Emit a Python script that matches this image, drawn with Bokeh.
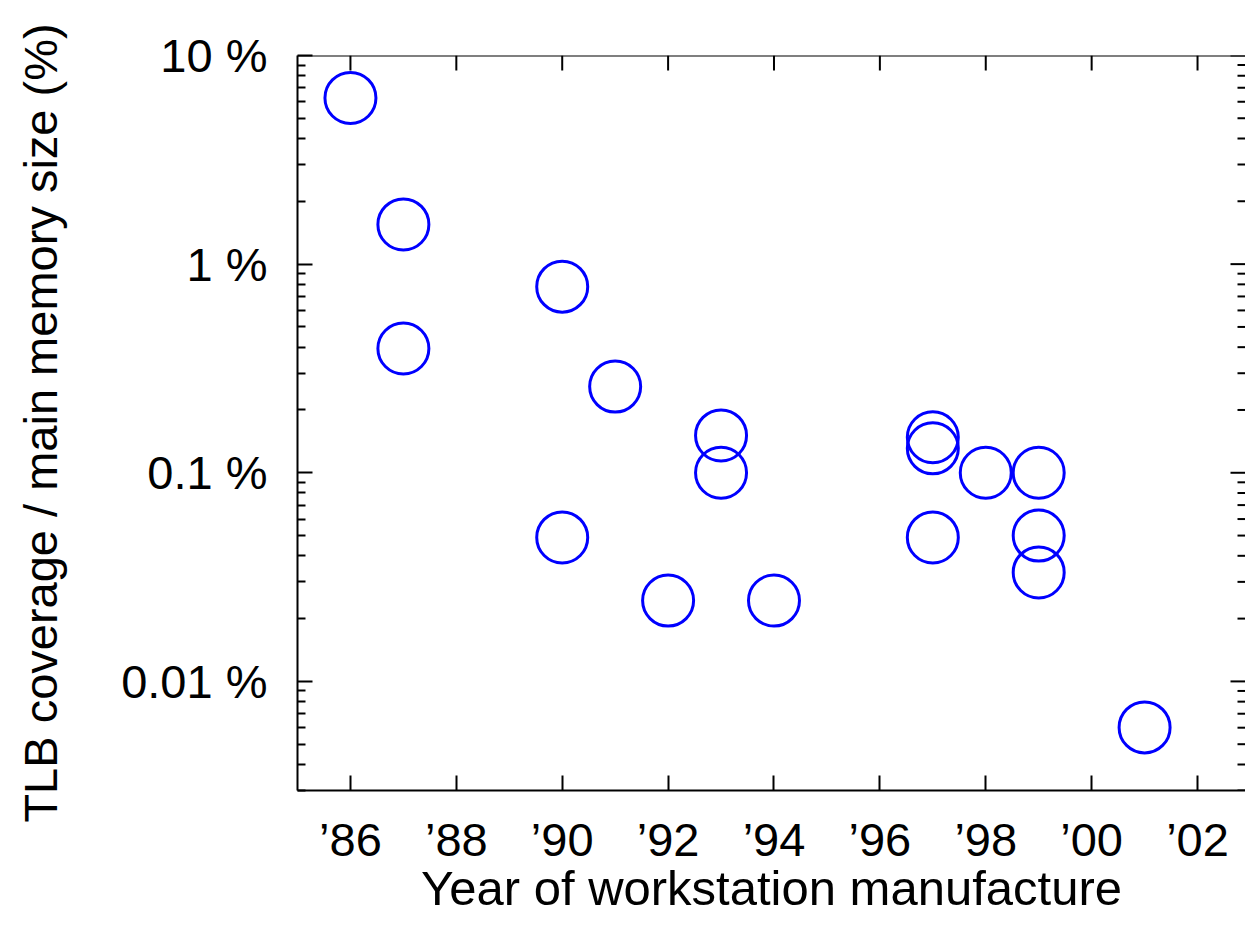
import math
from bokeh.plotting import figure
from bokeh.models import Range1d, FixedTicker, Span
from bokeh.embed import file_html
from bokeh.resources import INLINE

# ---- data ----
years = [1986, 1987, 1987, 1990, 1990, 1991, 1992, 1993, 1993, 1994,
         1997, 1997, 1997, 1998, 1999, 1999, 1999, 2001]
coverage_pct = [6.26, 1.55, 0.394, 0.78, 0.049, 0.259, 0.0244, 0.151, 0.100, 0.0244,
                0.148, 0.131, 0.049, 0.100, 0.100, 0.050, 0.0333, 0.00602]

x_ticks = [1986, 1988, 1990, 1992, 1994, 1996, 1998, 2000, 2002]
x_tick_labels = ["\u201986", "\u201988", "\u201990", "\u201992", "\u201994",
                 "\u201996", "\u201998", "\u201900", "\u201902"]
y_ticks = [0.01, 0.1, 1, 10]
y_tick_labels = ["0.01 %", "0.1 %", "1 %", "10 %"]
y_minor = [m * 10.0 ** e for e in range(-3, 1) for m in range(2, 10)]

x_title = "Year of workstation manufacture"
y_title = "TLB coverage / main memory size (%)"

X0, X1 = 1985, 2002.906
Y0, Y1 = 0.003, 10

FONT = "Liberation Sans"
FS = "47px"

p = figure(width=1245, height=936, output_backend="svg", toolbar_location=None,
           y_axis_type="log",
           x_range=Range1d(X0, X1), y_range=Range1d(Y0, Y1),
           min_border_left=297, min_border_right=0, min_border_top=55,
           min_border_bottom=146)
p.outline_line_color = None
p.grid.visible = False
p.background_fill_color = "white"
p.border_fill_color = "white"

# top border (right border falls outside the page, as in the reference)
p.add_layout(Span(location=Y1, dimension="width", line_color="black", line_width=2))

# mirrored ticks on top and right
p.ray(x=x_ticks, y=[Y1] * len(x_ticks), length=15, length_units="screen",
      angle=-math.pi / 2, line_color="black", line_width=2)
p.ray(x=[X1] * len(y_ticks), y=y_ticks, length=15, length_units="screen",
      angle=math.pi, line_color="black", line_width=2)
p.ray(x=[X1] * len(y_minor), y=y_minor, length=8, length_units="screen",
      angle=math.pi, line_color="black", line_width=2)

p.scatter(years, coverage_pct, marker="circle", size=51, fill_color=None,
          line_color="#0000ff", line_width=3)


def style(ax):
    ax.axis_line_color = "black"
    ax.axis_line_width = 2
    ax.major_tick_line_width = 2
    ax.minor_tick_line_width = 2
    ax.major_tick_in = 15
    ax.major_tick_out = 0
    ax.minor_tick_in = 8
    ax.minor_tick_out = 0
    ax.major_tick_line_color = "black"
    ax.minor_tick_line_color = "black"
    ax.major_label_text_font = FONT
    ax.major_label_text_font_size = FS
    ax.major_label_text_color = "black"
    ax.axis_label_text_font = FONT
    ax.axis_label_text_font_size = FS
    ax.axis_label_text_font_style = "normal"
    ax.axis_label_text_color = "black"


xa = p.xaxis[0]
xa.ticker = FixedTicker(ticks=x_ticks, minor_ticks=[])
style(xa)
xa.major_label_overrides = dict(zip(x_ticks, x_tick_labels))
xa.major_label_standoff = 22
xa.axis_label = x_title
xa.axis_label_text_font_size = "49px"
xa.axis_label_standoff = -8

ya = p.yaxis[0]
ya.ticker = FixedTicker(ticks=y_ticks, minor_ticks=y_minor)
style(ya)
ya.major_label_overrides = dict(zip(y_ticks, y_tick_labels))
ya.major_label_standoff = 30
ya.axis_label = y_title
ya.axis_label_standoff = 51

open("out.html", "w").write(file_html(p, INLINE))
